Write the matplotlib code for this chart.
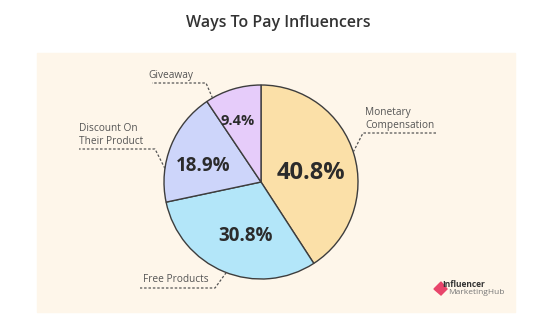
import numpy as np
import matplotlib.pyplot as plt
from matplotlib.patches import Rectangle, Polygon

plt.rcParams['font.family'] = ['Open Sans', 'DejaVu Sans']

title = "Ways To Pay Influencers"
labels = ["Monetary\nCompensation", "Free Products", "Discount On\nTheir Product", "Giveaway"]
values = [40.8, 30.8, 18.9, 9.4]
colors = ["#FBE0A8", "#B3E6F9", "#CDD5FA", "#E6CCFA"]

W, H = 554, 332


def Y(py):
    # pixel row (from top) -> axis y
    return H - py


fig = plt.figure(figsize=(W / 100, H / 100), dpi=100)
ax = fig.add_axes([0, 0, 1, 1])
ax.set_xlim(0, W)
ax.set_ylim(0, H)
ax.axis('off')

# panel background
ax.add_patch(Rectangle((37, Y(312)), 478, 259, color="#FEF6EA", zorder=0))

cx, cy, R = 261, Y(182), 97
wedges, _ = ax.pie(values, colors=colors, startangle=90, counterclock=False,
                   center=(cx, cy), radius=R,
                   wedgeprops=dict(edgecolor="#3d3d3d", linewidth=1.0))
ax.set_xlim(0, W)
ax.set_ylim(0, H)
ax.set_aspect('equal')

# percentage labels inside wedges
rfrac = [0.52, 0.58, 0.62, 0.67]
dang = [-6, 7, 7, 4]
sizes = [17, 13.5, 13.5, 10.5]
for w, v, rf, da, fs in zip(wedges, values, rfrac, dang, sizes):
    a = np.deg2rad((w.theta1 + w.theta2) / 2 + da)
    ax.text(cx + rf * R * np.cos(a), cy + rf * R * np.sin(a), f"{v}%",
            ha='center', va='center', fontsize=fs, fontweight='bold', color="#2b2b2b")

# callouts: anchor angle on rim, elbow point, underline end, text spot
callouts = [
    (18, (363, 133), (437, 133), (365, 131)),
    (-111, (215, 288), (140, 288), (143, 285.5)),
    (172, (155, 149), (79, 149), (79, 147)),
    (120, (206, 83), (152, 83), (148, 81)),
]
for lab, (ang, elbow, end, tpos) in zip(labels, callouts):
    a = np.deg2rad(ang)
    px, py = cx + R * np.cos(a), cy + R * np.sin(a)
    ax.plot([px, elbow[0], end[0]], [py, Y(elbow[1]), Y(end[1])],
            color="#555555", lw=0.9, ls=(0, (2, 1.5)), zorder=3)
    ax.text(tpos[0], Y(tpos[1]), lab, ha='left', va='bottom', fontsize=7.3,
            color="#555555", linespacing=1.3)

ax.text(278, Y(23), title, ha='center', va='center', fontsize=11.5,
        color="#333333", fontweight='semibold')

# logo
ax.add_patch(Polygon([(434, Y(289)), (441, Y(282)), (447, Y(289)), (441, Y(295))],
                     closed=True, color="#E8456B", zorder=3))
ax.text(442, Y(284.5), "Influencer", fontsize=6, fontweight='bold', color="#333333",
        va='center', ha='left')
ax.text(448, Y(293), "MarketingHub", fontsize=6, color="#777777",
        va='center', ha='left')

fig.savefig("out.png", dpi=100)
